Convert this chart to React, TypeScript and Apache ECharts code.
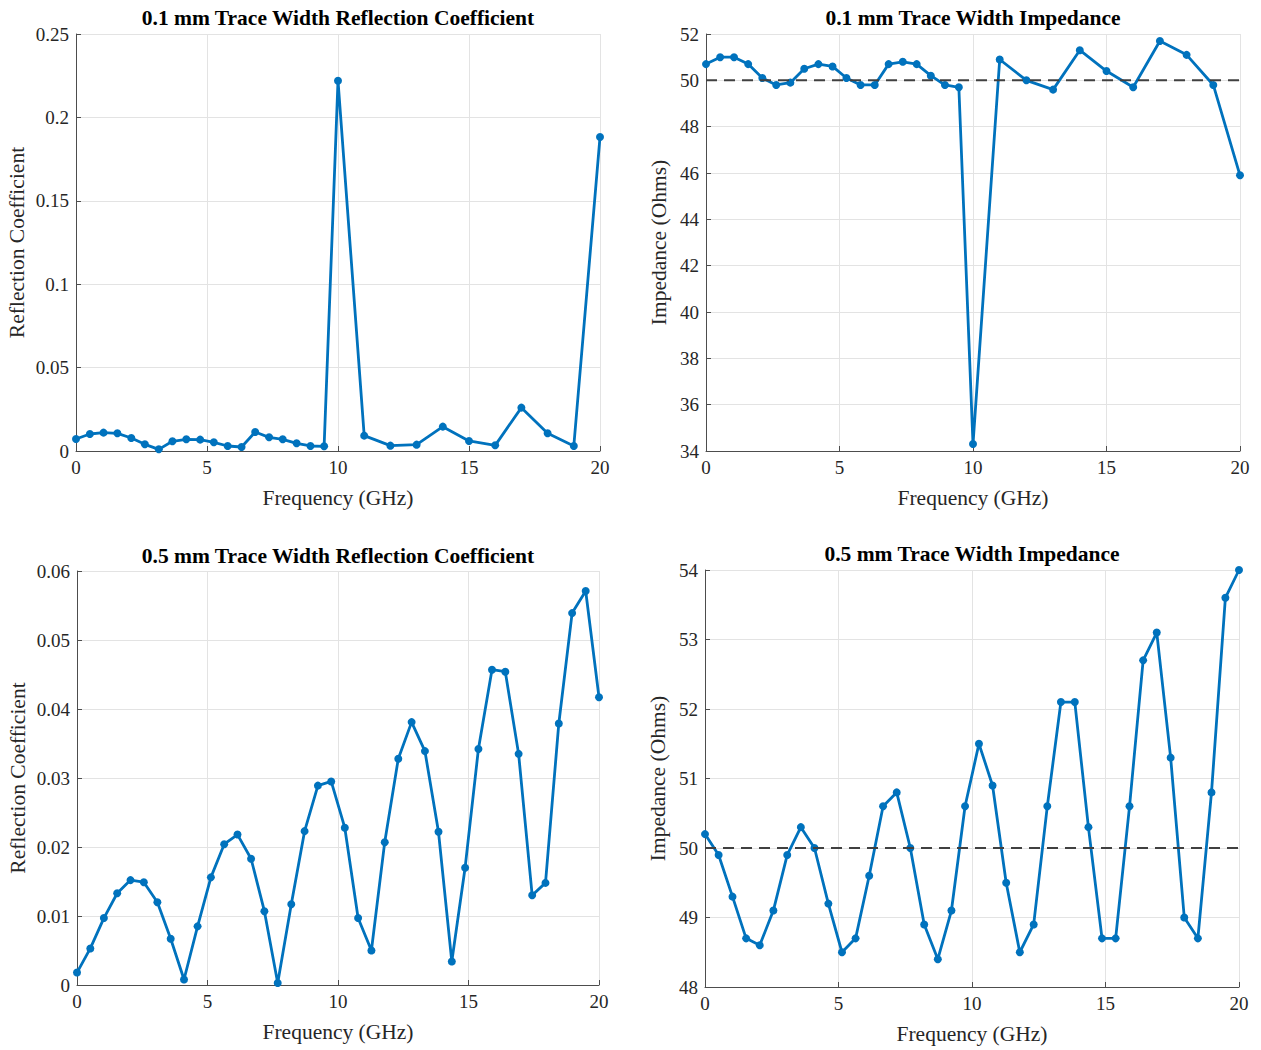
import React, { useEffect, useRef } from "react";
import * as echarts from "echarts";

const freqA = [0, 0.53, 1.05, 1.58, 2.11, 2.63, 3.16, 3.68, 4.21, 4.74, 5.26, 5.79, 6.32, 6.84, 7.37, 7.89, 8.42, 8.95, 9.47, 10, 11, 12, 13, 14, 15, 16, 17, 18, 19, 20];
const reflA = [0.0072, 0.0102, 0.011, 0.0106, 0.0078, 0.004, 0.001, 0.0058, 0.007, 0.0068, 0.0052, 0.003, 0.0024, 0.0114, 0.0082, 0.007, 0.0046, 0.003, 0.0028, 0.222, 0.0092, 0.0032, 0.0038, 0.0146, 0.006, 0.0034, 0.026, 0.0106, 0.003, 0.1882];
const impA = [50.7, 51.0, 51.0, 50.7, 50.1, 49.8, 49.9, 50.5, 50.7, 50.6, 50.1, 49.8, 49.8, 50.7, 50.8, 50.7, 50.2, 49.8, 49.7, 34.3, 50.9, 50.0, 49.6, 51.3, 50.4, 49.7, 51.7, 51.1, 49.8, 45.9];

const freqB = [0, 0.51, 1.03, 1.54, 2.05, 2.56, 3.08, 3.59, 4.1, 4.62, 5.13, 5.64, 6.15, 6.67, 7.18, 7.69, 8.21, 8.72, 9.23, 9.74, 10.26, 10.77, 11.28, 11.79, 12.31, 12.82, 13.33, 13.85, 14.36, 14.87, 15.38, 15.9, 16.41, 16.92, 17.44, 17.95, 18.46, 18.97, 19.49, 20];
const reflB = [0.0018, 0.0053, 0.0097, 0.0133, 0.0152, 0.0149, 0.012, 0.0067, 0.0008, 0.0085, 0.0156, 0.0204, 0.0218, 0.0183, 0.0107, 0.0003, 0.0117, 0.0223, 0.0289, 0.0295, 0.0228, 0.0097, 0.005, 0.0207, 0.0328, 0.0381, 0.0339, 0.0222, 0.0034, 0.017, 0.0342, 0.0457, 0.0454, 0.0335, 0.013, 0.0148, 0.0379, 0.0539, 0.0571, 0.0417];
const impB = [50.2, 49.9, 49.3, 48.7, 48.6, 49.1, 49.9, 50.3, 50.0, 49.2, 48.5, 48.7, 49.6, 50.6, 50.8, 50.0, 48.9, 48.4, 49.1, 50.6, 51.5, 50.9, 49.5, 48.5, 48.9, 50.6, 52.1, 52.1, 50.3, 48.7, 48.7, 50.6, 52.7, 53.1, 51.3, 49.0, 48.7, 50.8, 53.6, 54.0];

const titles = [
  "0.1 mm Trace Width Reflection Coefficient",
  "0.1 mm Trace Width Impedance",
  "0.5 mm Trace Width Reflection Coefficient",
  "0.5 mm Trace Width Impedance",
];
const xName = "Frequency (GHz)";
const yNames = ["Reflection Coefficient", "Impedance (Ohms)", "Reflection Coefficient", "Impedance (Ohms)"];
const nominalImpedance = 50;

const FONT = "Liberation Serif";
const BLUE = "#0072BD";
const TXT = "#262626";

export default function App() {
  const ref = useRef<HTMLDivElement>(null);
  useEffect(() => {
    if (!ref.current) return;
    const chart = echarts.init(ref.current, null, { renderer: "svg" });
    const grids = [
      { left: 76, top: 34, width: 524, height: 417 },
      { left: 706, top: 34, width: 534, height: 417 },
      { left: 77, top: 571, width: 522, height: 414 },
      { left: 705, top: 570, width: 534, height: 417 },
    ];
    const yRanges = [
      { min: 0, max: 0.25, interval: 0.05 },
      { min: 34, max: 52, interval: 2 },
      { min: 0, max: 0.06, interval: 0.01 },
      { min: 48, max: 54, interval: 1 },
    ];
    const yGaps = [48, 36, 48, 36];
    const xs = [freqA, freqA, freqB, freqB];
    const ys = [reflA, impA, reflB, impB];

    const axisCommon = {
      axisLine: { show: true, onZero: false, lineStyle: { color: "#4d4d4d", width: 1 } },
      axisTick: { show: true, inside: true, length: 5, lineStyle: { color: "#4d4d4d" } },
      splitLine: { show: true, lineStyle: { color: "#e3e3e3", width: 1 } },
      nameTextStyle: { color: TXT, fontFamily: FONT, fontSize: 21.5 },
    };
    const labelStyle = { color: TXT, fontFamily: FONT, fontSize: 19 };

    const xAxis = grids.map((_, i) => ({
      type: "value",
      gridIndex: i,
      min: 0,
      max: 20,
      interval: 5,
      name: xName,
      nameLocation: "middle",
      nameGap: 36,
      ...axisCommon,
      axisLabel: { ...labelStyle, margin: 7 },
    }));
    const yAxis = grids.map((_, i) => ({
      type: "value",
      gridIndex: i,
      ...yRanges[i],
      name: yNames[i],
      nameLocation: "middle",
      nameGap: yGaps[i],
      ...axisCommon,
      axisLabel: { ...labelStyle, margin: 7 },
    }));

    const series: any[] = [];
    grids.forEach((_, i) => {
      series.push({
        type: "line",
        xAxisIndex: i,
        yAxisIndex: i,
        data: xs[i].map((x, k) => [x, ys[i][k]]),
        symbol: "circle",
        symbolSize: 8,
        itemStyle: { color: BLUE },
        lineStyle: { color: BLUE, width: 2.8 },
        z: 3,
      });
      if (i === 1 || i === 3) {
        series.push({
          type: "line",
          xAxisIndex: i,
          yAxisIndex: i,
          data: [[0, nominalImpedance], [20, nominalImpedance]],
          symbol: "none",
          lineStyle: { color: "#404040", width: 2, type: [11, 7] },
          z: 4,
        });
      }
    });

    const titleGraphics = grids.map((g, i) => ({
      type: "text",
      x: g.left + g.width / 2,
      y: i < 2 ? 18 : i === 2 ? 556 : 554,
      style: {
        text: titles[i],
        fill: "#000",
        font: `bold 21.5px ${FONT}`,
        textAlign: "center",
        textVerticalAlign: "middle",
      },
    }));

    chart.setOption({
      animation: false,
      backgroundColor: "#ffffff",
      textStyle: { fontFamily: FONT },
      grid: grids.map((g) => ({ ...g, containLabel: false })),
      xAxis,
      yAxis,
      series,
      graphic: titleGraphics,
    });
    return () => chart.dispose();
  }, []);
  return (
    <div
      ref={ref}
      style={{ position: "absolute", left: 0, top: 0, width: 1261, height: 1050, background: "#fff", fontFamily: FONT }}
    />
  );
}
